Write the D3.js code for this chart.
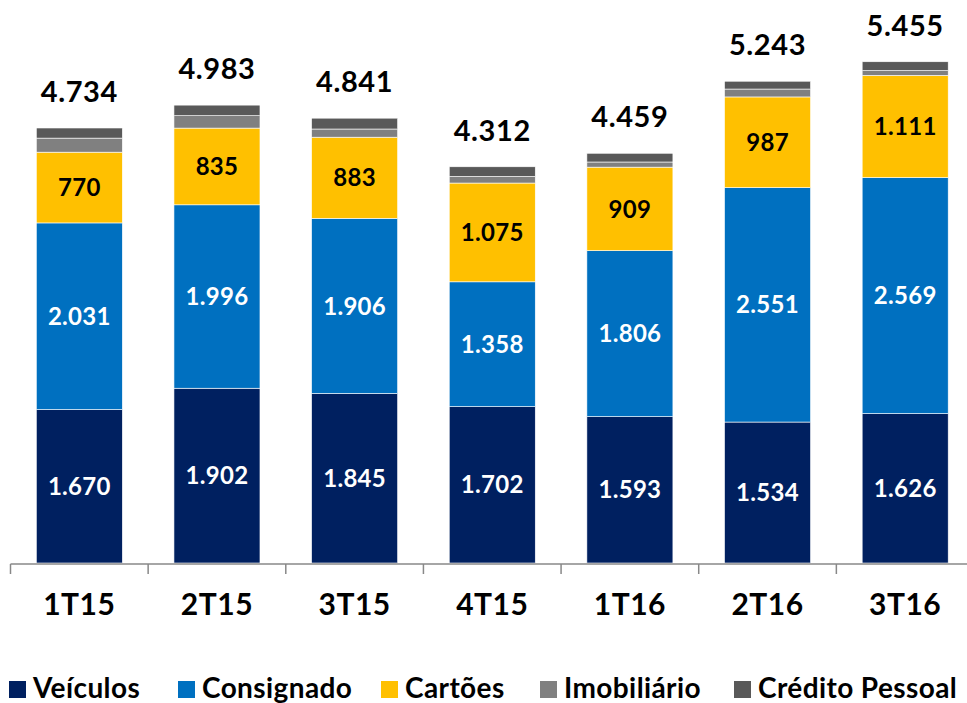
<!DOCTYPE html>
<html><head><meta charset="utf-8">
<script src="https://cdn.jsdelivr.net/npm/d3@7"></script>
<style>body{margin:0;background:#fff}svg{display:block}</style>
</head><body>
<svg id="c" width="967" height="703"></svg>
<script>
const categories = ["1T15","2T15","3T15","4T15","1T16","2T16","3T16"];
const seriesNames = ["Veículos","Consignado","Cartões","Imobiliário","Crédito Pessoal"];
const veiculos   = [1670,1902,1845,1702,1593,1534,1626];
const consignado = [2031,1996,1906,1358,1806,2551,2569];
const cartoes    = [770,835,883,1075,909,987,1111];
const imobiliario= [153,135,89,72,56,86,53];
const creditoPessoal = [110,115,118,105,95,85,96];
const totals     = [4734,4983,4841,4312,4459,5243,5455];
const colors = ["#002060","#0070C0","#FFC000","#808080","#595959"];
const labeled = [true,true,true,false,false];

const font = "Lato, 'Open Sans', sans-serif";
const svg = d3.select("#c");
const baseY = 563;
const x = d3.scaleBand().domain(categories).range([10.5, 974]).paddingInner(0.375).paddingOuter(0.1875);
const y = d3.scaleLinear().domain([0, 4734]).range([baseY, 128]);

const rows = categories.map((c,i)=>({cat:c, "Veículos":veiculos[i], "Consignado":consignado[i], "Cartões":cartoes[i], "Imobiliário":imobiliario[i], "Crédito Pessoal":creditoPessoal[i]}));
const stack = d3.stack().keys(seriesNames)(rows);
const fmt = v => d3.format(",")(v).replace(/,/g,".");

stack.forEach((layer, li) => {
  const g = svg.append("g");
  g.selectAll("rect").data(layer).join("rect")
    .attr("x", d => x(d.data.cat))
    .attr("width", x.bandwidth())
    .attr("y", d => y(d[1]))
    .attr("height", d => y(d[0]) - y(d[1]))
    .attr("fill", colors[li])
    .attr("stroke", "#fff").attr("stroke-width", 0.6);
  if (labeled[li]) {
    g.selectAll("text").data(layer).join("text")
      .attr("x", d => x(d.data.cat) + x.bandwidth()/2)
      .attr("y", d => (y(d[0]) + y(d[1]))/2)
      .attr("dy", "0.36em")
      .attr("text-anchor","middle")
      .attr("fill", li === 2 ? "#000" : "#fff")
      .attr("font-family", font).attr("font-weight","bold").attr("font-size", 24)
      .attr("letter-spacing", 0.3)
      .text(d => fmt(d[1]-d[0]));
  }
});

// totals
svg.append("g").selectAll("text").data(categories).join("text")
  .attr("x", c => x(c) + x.bandwidth()/2)
  .attr("y", (c,i) => y(totals[i]) - 26)
  .attr("text-anchor","middle")
  .attr("font-family", font).attr("font-weight","bold").attr("font-size", 29)
  .attr("letter-spacing", 0.6)
  .attr("fill","#000")
  .text((c,i)=>fmt(totals[i]));

// axis
const axisY = 564;
svg.append("line").attr("x1",10.5).attr("x2",967).attr("y1",axisY).attr("y2",axisY).attr("stroke","#888").attr("stroke-width",1.5);
const step = x.step();
const tickXs = categories.map((c,i)=> 10.5 + i*step);
svg.append("g").selectAll("line").data(tickXs).join("line")
  .attr("x1", d=>d).attr("x2", d=>d).attr("y1", axisY).attr("y2", axisY+10)
  .attr("stroke","#888").attr("stroke-width",1.5);
svg.append("g").selectAll("text").data(categories).join("text")
  .attr("x", c => x(c) + x.bandwidth()/2)
  .attr("y", 615)
  .attr("text-anchor","middle")
  .attr("font-family", font).attr("font-weight","bold").attr("font-size", 30)
  .attr("letter-spacing", 0.5)
  .text(c=>c);

// legend
const legX = [9, 178, 381, 540, 734];
const lg = svg.append("g").selectAll("g").data(seriesNames).join("g")
  .attr("transform",(d,i)=>`translate(${legX[i]},681)`);
lg.append("rect").attr("width",17).attr("height",17).attr("fill",(d,i)=>colors[i]);
lg.append("text").attr("x",24).attr("y",17)
  .attr("font-family", font).attr("font-weight","bold").attr("font-size", 28)
  .attr("letter-spacing", 0.4)
  .text(d=>d);
</script>
</body></html>
